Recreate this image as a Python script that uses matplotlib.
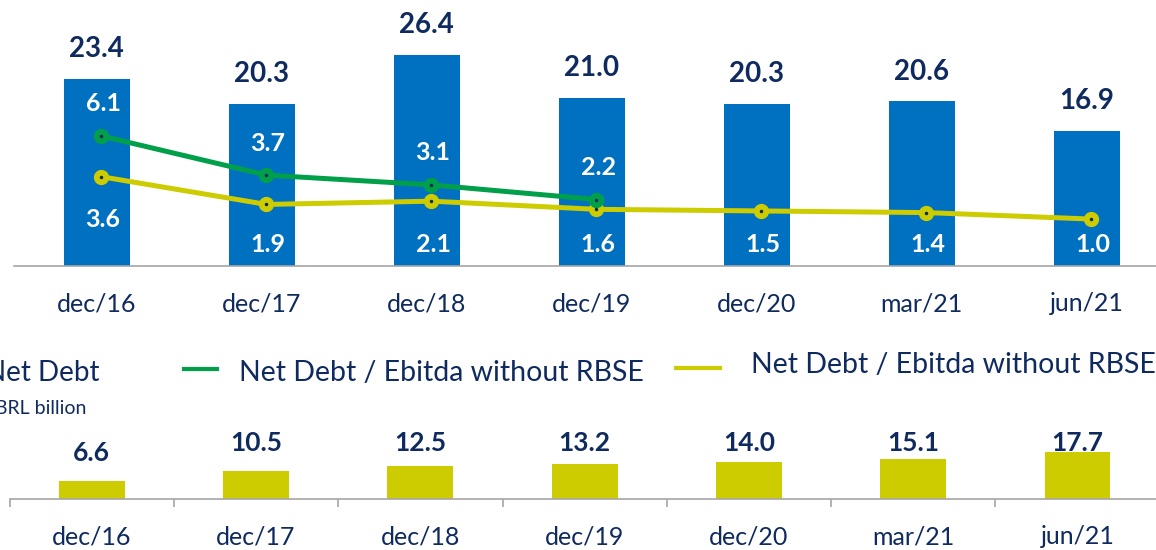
import matplotlib
matplotlib.use("Agg")
import matplotlib.pyplot as plt
from matplotlib.lines import Line2D
import numpy as np

plt.rcParams['font.family'] = ['Lato', 'DejaVu Sans']

# ---- data ----
categories = ["dec/16", "dec/17", "dec/18", "dec/19", "dec/20", "mar/21", "jun/21"]
net_debt = [23.4, 20.3, 26.4, 21.0, 20.3, 20.6, 16.9]
ratio_green = [6.1, 3.7, 3.1, 2.2]          # Net Debt / Ebitda without RBSE (green)
ratio_yellow = [3.6, 1.9, 2.1, 1.6, 1.5, 1.4, 1.0]  # Net Debt / Ebitda without RBSE (yellow)
bottom_values = [6.6, 10.5, 12.5, 13.2, 14.0, 15.1, 17.7]

legend_label = "Net Debt / Ebitda without RBSE"
title_text = "Net Debt"
unit_text = "BRL billion"

# ---- style ----
BLUE = "#0070C0"
GREEN = "#00A04A"
YELLOW = "#CCCC00"
NAVY = "#0F2A5E"
GREY = "#A6A6A6"

W, H = 1156, 550
fig = plt.figure(figsize=(W / 100, H / 100), dpi=100)


def fx(x):
    return x / W


def fy(y):
    return 1 - y / H


n = len(categories)
x = np.arange(n)

# ---------------- top panel ----------------
top_left, top_base, top_height = 14, 266, 256
spacing_top = 165
ax = fig.add_axes([fx(top_left), fy(top_base), spacing_top * n / W, top_height / H])
ax.set_xlim(-0.5, n - 0.5)
ax.set_ylim(0, top_height / 8.0)
ax.bar(x, net_debt, width=0.40, color=BLUE, zorder=2)

for xi, v in zip(x, net_debt):
    ax.text(xi, v + 3.7, f"{v:.1f}", ha="center", va="center", fontsize=20,
            fontweight="bold", color=NAVY)

ax2 = ax.twinx()
sec_ppu = 16.3
sec_min = -30.6 / sec_ppu
ax2.set_ylim(sec_min, sec_min + top_height / sec_ppu)
ax2.set_xlim(-0.5, n - 0.5)
xo = 0.03
xg = x[:len(ratio_green)] + xo
xy = x + xo
ax2.plot(xy, ratio_yellow, color=YELLOW, lw=3.6, marker="o", ms=10,
         solid_capstyle="round", solid_joinstyle="round", zorder=3)
ax2.plot(xg, ratio_green, color=GREEN, lw=3.6, marker="o", ms=10,
         solid_capstyle="round", solid_joinstyle="round", zorder=4)
ax2.plot(xy, ratio_yellow, ls="none", marker="o", ms=1.5, color=NAVY, zorder=5)
ax2.plot(xg, ratio_green, ls="none", marker="o", ms=1.5, color=NAVY, zorder=5)

for xi, v in zip(xg, ratio_green):
    ax2.text(xi + 0.01, v + 32 / sec_ppu, f"{v:.1f}", ha="center", va="center",
             fontsize=18, fontweight="bold", color="white", zorder=6)
floor = sec_min + 22 / sec_ppu
for xi, v in zip(xy, ratio_yellow):
    ax2.text(xi + 0.01, max(v - 43 / sec_ppu, floor), f"{v:.1f}", ha="center",
             va="center", fontsize=18, fontweight="bold", color="white", zorder=6)

for a in (ax, ax2):
    for s in ("top", "right", "left"):
        a.spines[s].set_visible(False)
    a.set_yticks([])
ax2.spines["bottom"].set_visible(False)
ax.spines["bottom"].set_color(GREY)
ax.spines["bottom"].set_linewidth(1.2)
ax.set_xticks(np.arange(-0.5, n, 1.0))
ax.set_xticklabels([])
ax.tick_params(axis="x", which="major", length=6, color=GREY, width=1.2)
ax.set_xticks(x, minor=True)
ax.set_xticklabels(categories, minor=True, fontsize=18, color=NAVY)
ax.tick_params(axis="x", which="minor", length=0, pad=19)
ax2.set_xticks([])

# ---------------- legend / titles ----------------
fig.text(fx(100), fy(373), title_text, ha="right", va="center", fontsize=20, color=NAVY)
fig.text(fx(86), fy(408), unit_text, ha="right", va="center", fontsize=14, color=NAVY)
fig.add_artist(Line2D([fx(184), fx(217)], [fy(369), fy(369)], color=GREEN, lw=3,
                      transform=fig.transFigure))
fig.text(fx(239), fy(373), legend_label, ha="left", va="center", fontsize=20.5, color=NAVY)
fig.add_artist(Line2D([fx(676), fx(720)], [fy(368), fy(368)], color=YELLOW, lw=3,
                      transform=fig.transFigure))
fig.text(fx(751), fy(365), legend_label, ha="left", va="center", fontsize=20.5, color=NAVY)

# ---------------- bottom panel ----------------
bot_left, bot_base, bot_height = 9.6, 499, 70
spacing_bot = 164.3
bppu = 2.67
axb = fig.add_axes([fx(bot_left), fy(bot_base), spacing_bot * n / W, bot_height / H])
axb.set_xlim(-0.5, n - 0.5)
axb.set_ylim(0, bot_height / bppu)
axb.bar(x, bottom_values, width=0.40, color=YELLOW, zorder=2)
cap = 56 / bppu
for xi, v in zip(x, bottom_values):
    axb.text(xi, min(v + 28 / bppu, cap), f"{v:.1f}", ha="center", va="center",
             fontsize=19, fontweight="bold", color=NAVY, zorder=3)
for s in ("top", "right", "left"):
    axb.spines[s].set_visible(False)
axb.set_yticks([])
axb.spines["bottom"].set_color(GREY)
axb.spines["bottom"].set_linewidth(1.2)
axb.set_xticks(np.arange(-0.5, n, 1.0))
axb.set_xticklabels([])
axb.tick_params(axis="x", which="major", length=6, color=GREY, width=1.2)
axb.set_xticks(x, minor=True)
axb.set_xticklabels(categories, minor=True, fontsize=18, color=NAVY)
axb.tick_params(axis="x", which="minor", length=0, pad=19)

fig.savefig("out.png", dpi=100)
